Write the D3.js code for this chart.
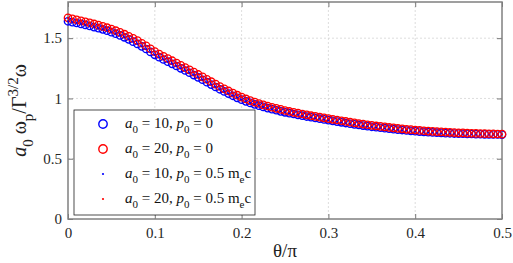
<!DOCTYPE html>
<html>
<head>
<meta charset="utf-8">
<script src="https://cdn.jsdelivr.net/npm/d3@7"></script>
</head>
<body style="margin:0;background:#fff">
<svg id="chart" width="513" height="263"></svg>
<script>
const serif = "'Liberation Serif'";

// theta/pi sample positions
const theta = d3.range(0, 101).map(i => +(i * 0.005).toFixed(3));

// a0 = 10, p0 = 0
const a10 = [1.640,1.633,1.626,1.618,1.610,1.601,1.592,1.583,1.573,1.562,
  1.550,1.537,1.523,1.507,1.490,1.471,1.452,1.432,1.410,1.386,
  1.362,1.342,1.323,1.305,1.287,1.269,1.250,1.232,1.213,1.194,
  1.175,1.155,1.135,1.115,1.095,1.076,1.058,1.040,1.022,1.005,
  0.990,0.976,0.963,0.951,0.940,0.930,0.920,0.911,0.902,0.893,
  0.885,0.878,0.871,0.864,0.857,0.850,0.844,0.838,0.832,0.826,
  0.820,0.814,0.808,0.802,0.796,0.790,0.785,0.780,0.775,0.770,
  0.765,0.761,0.757,0.753,0.749,0.745,0.741,0.738,0.734,0.731,
  0.728,0.725,0.723,0.720,0.718,0.716,0.714,0.712,0.711,0.709,
  0.708,0.707,0.706,0.705,0.704,0.703,0.702,0.702,0.701,0.701,0.700];

// a0 = 20, p0 = 0
const a20 = [1.668,1.660,1.652,1.644,1.636,1.627,1.618,1.608,1.598,1.587,
  1.575,1.562,1.548,1.533,1.516,1.498,1.480,1.458,1.436,1.412,
  1.388,1.368,1.350,1.331,1.313,1.294,1.275,1.256,1.237,1.218,
  1.199,1.179,1.159,1.139,1.119,1.099,1.080,1.062,1.044,1.027,
  1.011,0.996,0.982,0.970,0.958,0.947,0.937,0.927,0.918,0.909,
  0.900,0.892,0.885,0.878,0.871,0.864,0.857,0.851,0.845,0.839,
  0.833,0.827,0.821,0.815,0.809,0.803,0.797,0.792,0.787,0.782,
  0.777,0.772,0.768,0.764,0.760,0.756,0.752,0.748,0.744,0.741,
  0.738,0.735,0.732,0.729,0.727,0.725,0.723,0.721,0.719,0.717,
  0.715,0.714,0.712,0.711,0.710,0.709,0.708,0.707,0.706,0.705,0.704];

// p0 = 0.5 m_e c runs sit on top of the p0 = 0 ones
const a10p = a10;
const a20p = a20;

const xTicks = [0, 0.1, 0.2, 0.3, 0.4, 0.5];
const yTicks = [0, 0.5, 1, 1.5];

const series = [
  {name: "10", p: "0", y: a10, color: "#0000ff", kind: "circle"},
  {name: "20", p: "0", y: a20, color: "#ff0000", kind: "circle"},
  {name: "10", p: "0.5", y: a10p, color: "#0000ff", kind: "dot"},
  {name: "20", p: "0.5", y: a20p, color: "#ff0000", kind: "dot"}
];

const svg = d3.select("#chart");
const margin = {top: 2, right: 11, bottom: 44, left: 68};
const width = 513 - margin.left - margin.right;
const height = 263 - margin.top - margin.bottom;
const g = svg.append("g").attr("transform", `translate(${margin.left},${margin.top})`);

const x = d3.scaleLinear().domain([0, 0.5]).range([0, width]);
const y = d3.scaleLinear().domain([0, 1.8]).range([height, 0]);

// grid
g.append("g").selectAll("line").data(xTicks.slice(1, -1)).join("line")
  .attr("x1", d => x(d)).attr("x2", d => x(d)).attr("y1", 0).attr("y2", height)
  .attr("stroke", "#d4d4d4").attr("stroke-width", 0.8).attr("stroke-dasharray", "2,2");
g.append("g").selectAll("line").data(yTicks.slice(1)).join("line")
  .attr("y1", d => y(d)).attr("y2", d => y(d)).attr("x1", 0).attr("x2", width)
  .attr("stroke", "#d4d4d4").attr("stroke-width", 0.8).attr("stroke-dasharray", "2,2");

// axes with inward ticks
function styleAxis(sel) {
  sel.attr("font-family", null).attr("font-size", null);
  sel.select(".domain").remove();
  sel.selectAll(".tick line").attr("stroke", "#777").attr("stroke-width", 1);
  sel.selectAll(".tick text").attr("fill", "#262626")
    .style("font-family", serif).style("font-size", "15px");
}
g.append("g").attr("transform", `translate(0,${height})`)
  .call(d3.axisBottom(x).tickValues(xTicks).tickFormat(d3.format("")).tickSizeInner(-5).tickPadding(8))
  .call(styleAxis);
g.append("g")
  .call(d3.axisTop(x).tickValues(xTicks).tickFormat("").tickSizeInner(-5))
  .call(styleAxis);
g.append("g")
  .call(d3.axisLeft(y).tickValues(yTicks).tickFormat(d3.format("")).tickSizeInner(-5).tickPadding(6))
  .call(styleAxis);
g.append("g").attr("transform", `translate(${width},0)`)
  .call(d3.axisRight(y).tickValues(yTicks).tickFormat("").tickSizeInner(-5))
  .call(styleAxis);

g.append("rect").attr("width", width).attr("height", height)
  .attr("fill", "none").attr("stroke", "#808080").attr("stroke-width", 1.5);

// data
series.forEach(s => {
  const pts = g.append("g").selectAll("circle").data(s.y).join("circle")
    .attr("cx", (d, i) => x(theta[i]))
    .attr("cy", d => y(d));
  if (s.kind === "circle") {
    pts.attr("r", 3.7).attr("fill", "none").attr("stroke", s.color).attr("stroke-width", 1.3);
  } else {
    pts.attr("r", 1).attr("fill", s.color);
  }
});

// legend
const leg = g.append("g").attr("transform", "translate(6,108)");
leg.append("rect").attr("width", 181).attr("height", 105)
  .attr("fill", "#fff").attr("stroke", "#222").attr("stroke-width", 0.8);
series.forEach((s, i) => {
  const row = leg.append("g").attr("transform", `translate(0,${14 + i * 25})`);
  if (s.kind === "circle") {
    row.append("circle").attr("cx", 29).attr("cy", 0).attr("r", 4.2)
      .attr("fill", "none").attr("stroke", s.color).attr("stroke-width", 1.4);
  } else {
    row.append("circle").attr("cx", 29).attr("cy", 0).attr("r", 1.1).attr("fill", s.color);
  }
  const t = row.append("text").attr("x", 51).attr("y", 4)
    .style("font-family", serif).style("font-size", "15px").attr("fill", "#111");
  t.append("tspan").style("font-style", "italic").text("a");
  t.append("tspan").attr("dy", 5).style("font-size", "11px").text("0");
  t.append("tspan").attr("dy", -5).text(` = ${s.name}, `);
  t.append("tspan").style("font-style", "italic").text("p");
  t.append("tspan").attr("dy", 5).style("font-size", "11px").text("0");
  if (s.p === "0") {
    t.append("tspan").attr("dy", -5).text(" = 0");
  } else {
    t.append("tspan").attr("dy", -5).text(" = 0.5 m");
    t.append("tspan").attr("dy", 5).style("font-size", "11px").text("e");
    t.append("tspan").attr("dy", -5).text("c");
  }
});

// axis titles
svg.append("text").attr("x", margin.left + width / 2).attr("y", 257)
  .attr("text-anchor", "middle").style("font-family", serif).style("font-size", "19px").attr("fill", "#222")
  .text("θ/π");

const yl = svg.append("text")
  .attr("transform", `translate(26,${margin.top + height / 2}) rotate(-90)`)
  .attr("text-anchor", "middle").style("font-family", serif).style("font-size", "20px").attr("fill", "#222");
yl.append("tspan").style("font-style", "italic").text("a");
yl.append("tspan").attr("dy", 7).style("font-size", "15px").text("0");
yl.append("tspan").attr("dy", -7).text(" ω");
yl.append("tspan").attr("dy", 7).style("font-size", "15px").text("p");
yl.append("tspan").attr("dy", -7).text("/Γ");
yl.append("tspan").attr("dy", -8).style("font-size", "15px").text("3/2");
yl.append("tspan").attr("dy", 8).text("ω");
</script>
</body>
</html>
